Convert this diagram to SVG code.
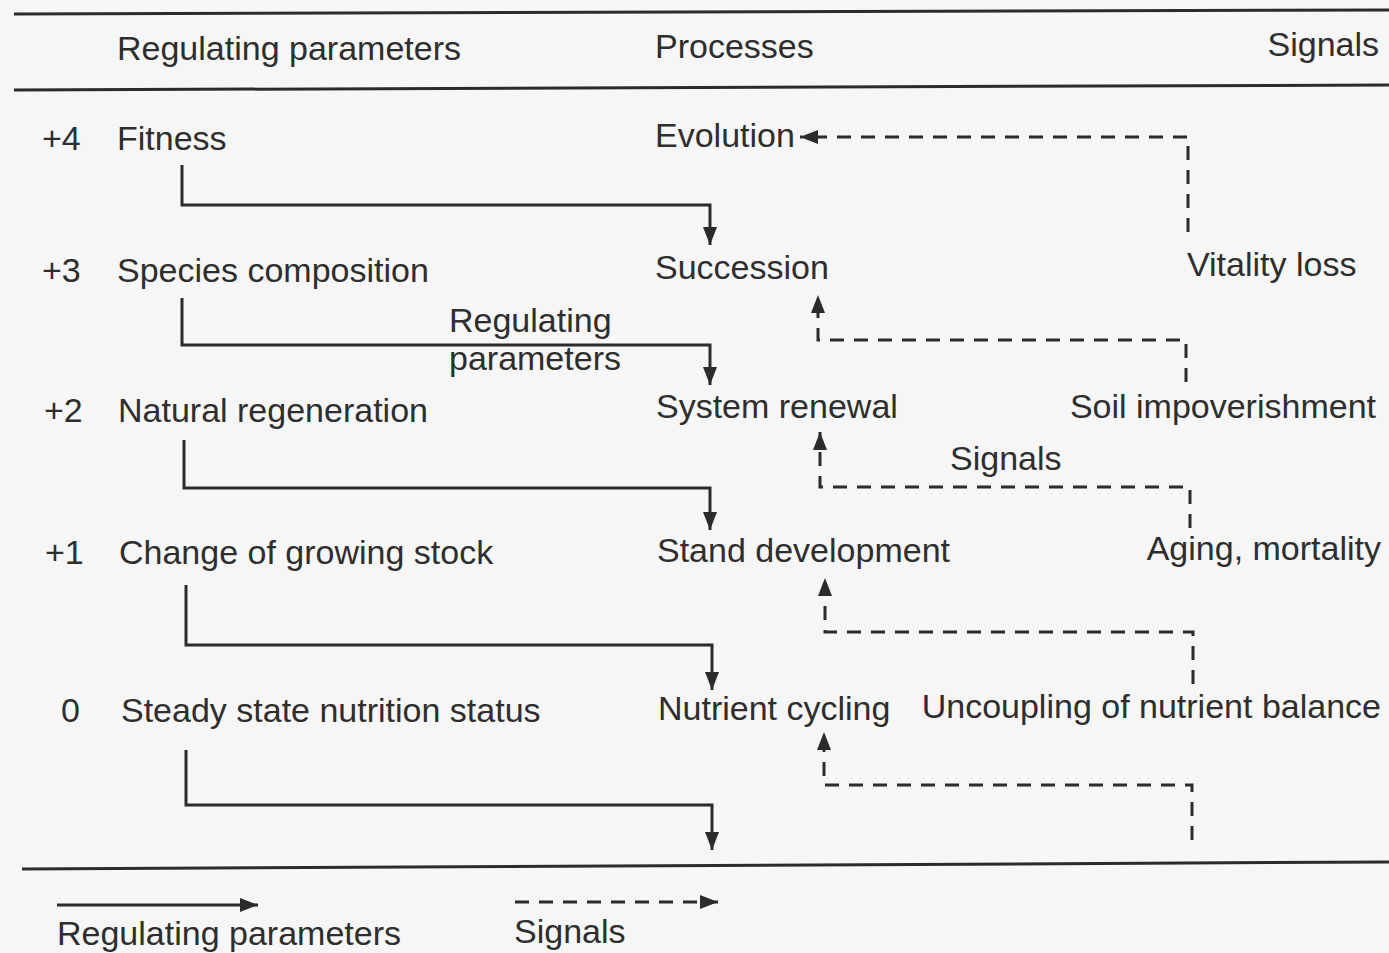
<svg xmlns="http://www.w3.org/2000/svg" width="1389" height="953" viewBox="0 0 1389 953">
  <defs>
    <marker id="head" viewBox="0 0 18 14" refX="18" refY="7" markerWidth="18" markerHeight="14" markerUnits="userSpaceOnUse" orient="auto">
      <path d="M0,0 L18,7 L0,14 z" fill="#2b2b2b"/>
    </marker>
    <style>
      text { font-family: "Liberation Sans", Arial, Helvetica, sans-serif; font-size: 34px; fill: #2e2e2e; }
      .rule { stroke: #2b2b2b; stroke-width: 3; fill: none; }
      .reg { stroke: #2b2b2b; stroke-width: 3; fill: none; marker-end: url(#head); }
      .sig { stroke: #2b2b2b; stroke-width: 3; fill: none; stroke-dasharray: 14 10; marker-end: url(#head); }
      .end { text-anchor: end; }
    </style>
  </defs>

  <rect width="1389" height="953" fill="#f6f6f6"/>

  <!-- table rules -->
  <g id="rules">
    <line class="rule" x1="14" y1="14" x2="1389" y2="10"/>
    <line class="rule" x1="14" y1="90" x2="1389" y2="85"/>
    <line class="rule" x1="22" y1="869" x2="1389" y2="862"/>
  </g>

  <!-- column headers -->
  <g id="header">
    <text x="117" y="60">Regulating parameters</text>
    <text x="655" y="58">Processes</text>
    <text class="end" x="1379" y="56">Signals</text>
  </g>

  <!-- regulating parameters (left column) -->
  <g id="level-4">
    <text x="42" y="150">+4</text>
    <text x="117" y="150">Fitness</text>
  </g>
  <g id="level-3">
    <text x="42" y="282">+3</text>
    <text x="117" y="282">Species composition</text>
  </g>
  <g id="level-2">
    <text x="44" y="422">+2</text>
    <text x="118" y="422">Natural regeneration</text>
  </g>
  <g id="level-1">
    <text x="45" y="564">+1</text>
    <text x="119" y="564">Change of growing stock</text>
  </g>
  <g id="level-0">
    <text x="61" y="722">0</text>
    <text x="121" y="722">Steady state nutrition status</text>
  </g>

  <!-- processes (middle column) -->
  <g id="evolution"><text x="655" y="147">Evolution</text></g>
  <g id="succession"><text x="655" y="279">Succession</text></g>
  <g id="system-renewal"><text x="656" y="418">System renewal</text></g>
  <g id="stand-development"><text x="657" y="562">Stand development</text></g>
  <g id="nutrient-cycling"><text x="658" y="720">Nutrient cycling</text></g>

  <!-- signals (right column) -->
  <g id="vitality-loss"><text x="1187" y="276">Vitality loss</text></g>
  <g id="soil-impoverishment"><text class="end" x="1376" y="418">Soil impoverishment</text></g>
  <g id="aging-mortality"><text class="end" x="1381" y="560">Aging, mortality</text></g>
  <g id="uncoupling"><text class="end" x="1381" y="718">Uncoupling of nutrient balance</text></g>

  <!-- inline labels -->
  <g id="label-regulating">
    <text x="449" y="332">Regulating</text>
    <text x="449" y="370">parameters</text>
  </g>
  <g id="label-signals"><text x="950" y="470">Signals</text></g>

  <!-- connectors -->
  <g id="connectors">
    <path class="reg" d="M182,165 V205 H710 V245"/>
    <path class="reg" d="M182,298 V345 H710 V385"/>
    <path class="reg" d="M184,440 V488 H710 V530"/>
    <path class="reg" d="M186,585 V645 H712 V690"/>
    <path class="reg" d="M186,750 V805 H712 V850"/>

    <path class="sig" d="M1188,232 V137 H800"/>
    <path class="sig" d="M1186,382 V340 H818 V295"/>
    <path class="sig" d="M1190,528 V487 H820 V432"/>
    <path class="sig" d="M1193,684 V632 H825 V578"/>
    <path class="sig" d="M1192,840 V785 H824 V732"/>
  </g>

  <!-- legend -->
  <g id="legend">
    <path class="reg" d="M57,905 H258"/>
    <text x="57" y="945">Regulating parameters</text>
    <path class="sig" d="M515,902 H718"/>
    <text x="514" y="943">Signals</text>
  </g>
</svg>
